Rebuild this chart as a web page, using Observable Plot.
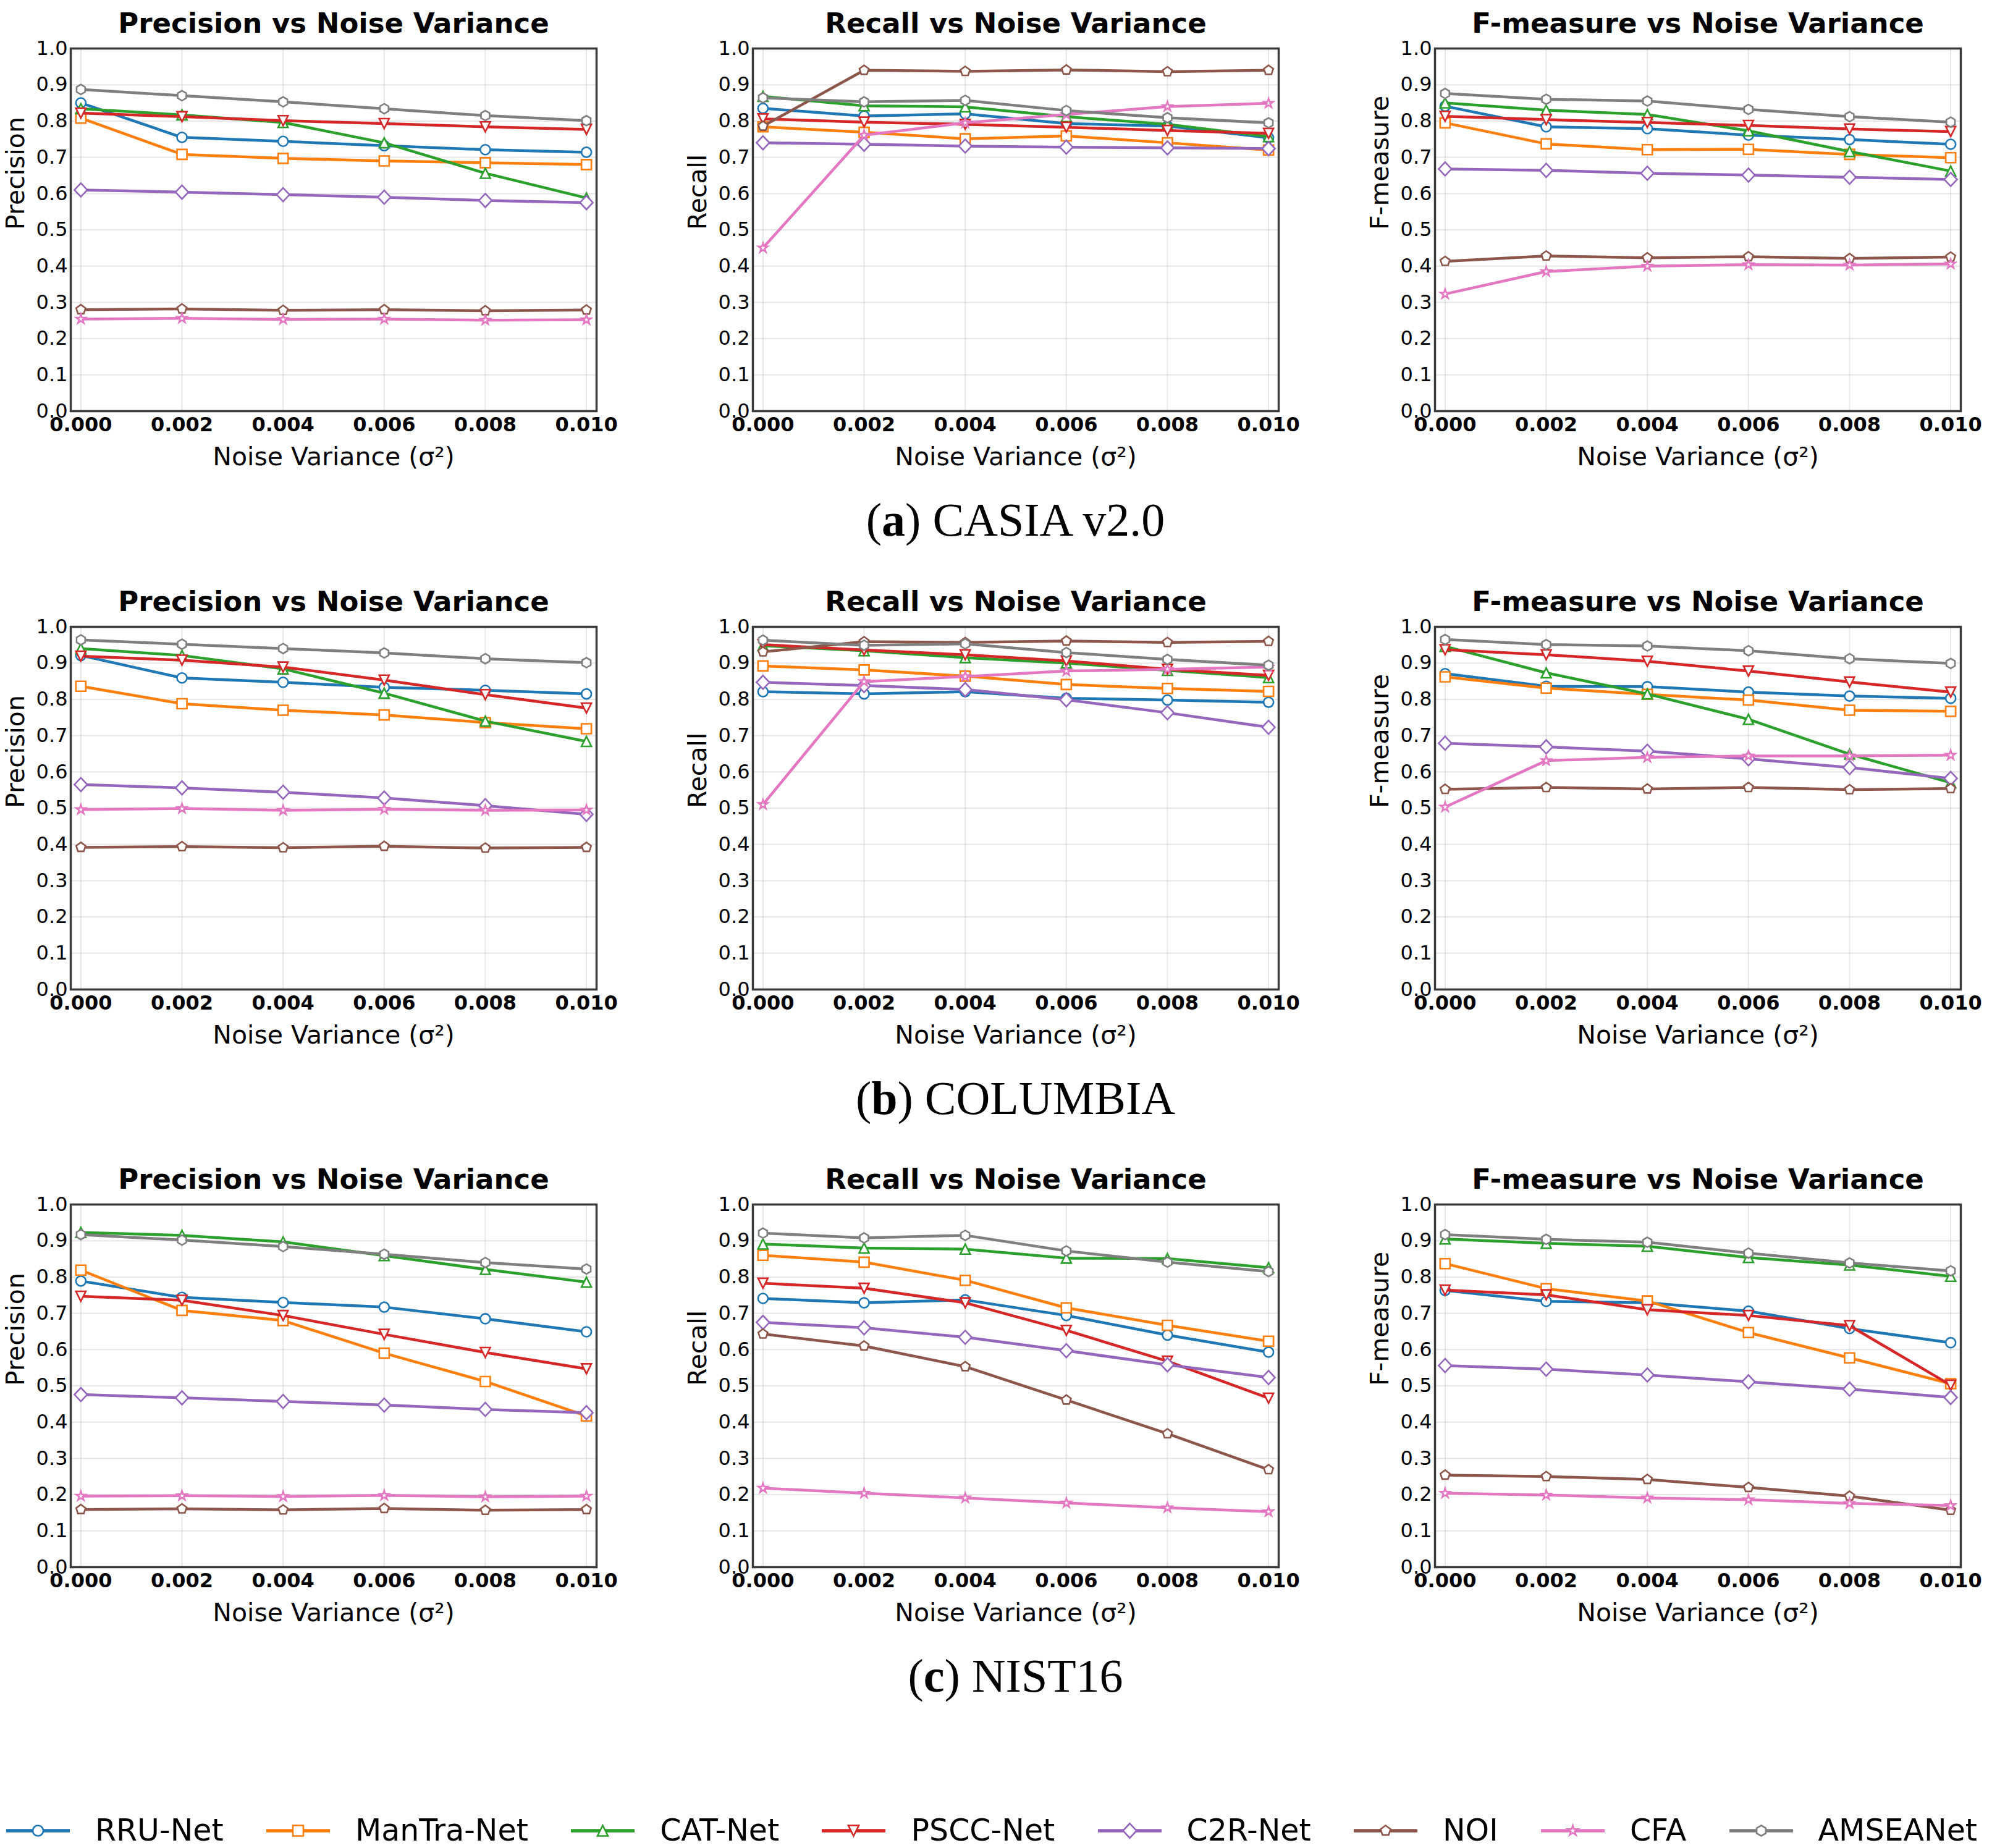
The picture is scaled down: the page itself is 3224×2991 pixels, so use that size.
<!DOCTYPE html>
<html>
<head>
<meta charset="utf-8">
<script src="https://cdn.jsdelivr.net/npm/d3@7"></script>
<script src="https://cdn.jsdelivr.net/npm/@observablehq/plot@0.6"></script>
<style>
html, body { margin: 0; padding: 0; background: #fff; }
#page { position: relative; width: 3224px; height: 2991px; overflow: hidden; font-family: "DejaVu Sans"; color: #000; }
.panel { position: absolute; }
.caption { position: absolute; font-family: "Liberation Serif"; font-size: 76px; line-height: 1; white-space: nowrap; transform: translateX(-50%); }
#legend { position: absolute; left: 10px; width: 3190px; top: 2933px; height: 60px; display: flex; justify-content: space-between; align-items: center; }
.entry { display: flex; align-items: center; height: 60px; }
.entry span { font-family: "DejaVu Sans"; font-size: 49px; line-height: 60px; margin-left: 41px; white-space: nowrap; }
</style>
</head>
<body>
<div id="page"></div>
<script>
// ---------- data ----------
const models = ["RRU-Net", "ManTra-Net", "CAT-Net", "PSCC-Net", "C2R-Net", "NOI", "CFA", "AMSEANet"];
const colors = ["#1f77b4", "#ff7f0e", "#2ca02c", "#d62728", "#9467bd", "#8c564b", "#e377c2", "#7f7f7f"];
const noiseVariance = [0, 0.002, 0.004, 0.006, 0.008, 0.010];
const yTicks = [0, 0.1, 0.2, 0.3, 0.4, 0.5, 0.6, 0.7, 0.8, 0.9, 1.0];
const metrics = ["Precision", "Recall", "F-measure"];
const datasetLetters = ["a", "b", "c"];
const datasetNames = ["CASIA v2.0", "COLUMBIA", "NIST16"];

// rows in model order: RRU, ManTra, CAT, PSCC, C2R, NOI, CFA, AMSEANet
const casiaPrecision = [
  [0.850, 0.755, 0.744, 0.732, 0.721, 0.714],
  [0.808, 0.708, 0.697, 0.690, 0.685, 0.680],
  [0.834, 0.817, 0.796, 0.740, 0.656, 0.588],
  [0.822, 0.812, 0.801, 0.793, 0.784, 0.777],
  [0.610, 0.604, 0.597, 0.590, 0.581, 0.575],
  [0.280, 0.282, 0.278, 0.280, 0.277, 0.279],
  [0.254, 0.256, 0.253, 0.254, 0.251, 0.252],
  [0.887, 0.870, 0.853, 0.834, 0.815, 0.801]
];
const casiaRecall = [
  [0.835, 0.814, 0.820, 0.793, 0.786, 0.754],
  [0.784, 0.769, 0.751, 0.759, 0.740, 0.720],
  [0.868, 0.842, 0.839, 0.812, 0.791, 0.757],
  [0.806, 0.797, 0.791, 0.783, 0.774, 0.766],
  [0.740, 0.736, 0.731, 0.728, 0.726, 0.724],
  [0.786, 0.940, 0.937, 0.941, 0.936, 0.940],
  [0.450, 0.761, 0.795, 0.818, 0.840, 0.849],
  [0.864, 0.853, 0.857, 0.829, 0.809, 0.795]
];
const casiaF = [
  [0.841, 0.784, 0.779, 0.761, 0.749, 0.736],
  [0.795, 0.737, 0.721, 0.722, 0.708, 0.699],
  [0.850, 0.830, 0.818, 0.773, 0.716, 0.662],
  [0.813, 0.804, 0.796, 0.788, 0.778, 0.771],
  [0.668, 0.664, 0.656, 0.651, 0.645, 0.639],
  [0.413, 0.428, 0.423, 0.426, 0.421, 0.425],
  [0.323, 0.385, 0.400, 0.404, 0.403, 0.406],
  [0.876, 0.860, 0.855, 0.832, 0.812, 0.797]
];
const columbiaPrecision = [
  [0.921, 0.859, 0.847, 0.833, 0.825, 0.815],
  [0.836, 0.788, 0.770, 0.757, 0.736, 0.719],
  [0.940, 0.921, 0.884, 0.817, 0.740, 0.684],
  [0.919, 0.908, 0.889, 0.853, 0.813, 0.776],
  [0.565, 0.556, 0.544, 0.528, 0.507, 0.483],
  [0.392, 0.394, 0.391, 0.395, 0.390, 0.392],
  [0.496, 0.499, 0.494, 0.497, 0.494, 0.495],
  [0.964, 0.952, 0.940, 0.928, 0.912, 0.901]
];
const columbiaRecall = [
  [0.821, 0.815, 0.821, 0.803, 0.798, 0.792],
  [0.892, 0.881, 0.864, 0.841, 0.830, 0.822],
  [0.948, 0.934, 0.915, 0.900, 0.880, 0.860],
  [0.951, 0.936, 0.923, 0.906, 0.883, 0.866],
  [0.847, 0.838, 0.827, 0.799, 0.763, 0.723],
  [0.931, 0.959, 0.957, 0.961, 0.957, 0.960],
  [0.510, 0.849, 0.863, 0.878, 0.883, 0.889],
  [0.963, 0.949, 0.953, 0.929, 0.910, 0.894]
];
const columbiaF = [
  [0.871, 0.836, 0.835, 0.820, 0.809, 0.803],
  [0.862, 0.831, 0.814, 0.798, 0.770, 0.767],
  [0.946, 0.873, 0.815, 0.745, 0.649, 0.570],
  [0.937, 0.923, 0.905, 0.878, 0.848, 0.820],
  [0.679, 0.669, 0.657, 0.636, 0.612, 0.582],
  [0.552, 0.557, 0.553, 0.557, 0.551, 0.554],
  [0.503, 0.631, 0.640, 0.644, 0.644, 0.646],
  [0.965, 0.951, 0.947, 0.934, 0.912, 0.899]
];
const nistPrecision = [
  [0.789, 0.744, 0.730, 0.717, 0.685, 0.649],
  [0.819, 0.708, 0.680, 0.590, 0.512, 0.417],
  [0.923, 0.915, 0.897, 0.859, 0.821, 0.786],
  [0.747, 0.736, 0.694, 0.642, 0.592, 0.547],
  [0.476, 0.467, 0.457, 0.447, 0.435, 0.426],
  [0.159, 0.161, 0.158, 0.162, 0.157, 0.159],
  [0.196, 0.197, 0.195, 0.198, 0.194, 0.196],
  [0.917, 0.902, 0.884, 0.863, 0.840, 0.822]
];
const nistRecall = [
  [0.741, 0.729, 0.737, 0.694, 0.640, 0.593],
  [0.860, 0.841, 0.791, 0.715, 0.667, 0.623],
  [0.891, 0.880, 0.877, 0.852, 0.851, 0.826],
  [0.783, 0.769, 0.729, 0.653, 0.568, 0.466],
  [0.675, 0.660, 0.634, 0.597, 0.558, 0.523],
  [0.643, 0.610, 0.553, 0.461, 0.368, 0.269],
  [0.218, 0.204, 0.191, 0.177, 0.164, 0.153],
  [0.921, 0.908, 0.915, 0.872, 0.841, 0.815]
];
const nistF = [
  [0.763, 0.733, 0.729, 0.706, 0.658, 0.619],
  [0.837, 0.768, 0.734, 0.647, 0.577, 0.506],
  [0.905, 0.893, 0.885, 0.854, 0.833, 0.802],
  [0.764, 0.751, 0.710, 0.694, 0.666, 0.502],
  [0.556, 0.546, 0.530, 0.511, 0.491, 0.468],
  [0.254, 0.250, 0.242, 0.220, 0.196, 0.157],
  [0.204, 0.199, 0.191, 0.186, 0.176, 0.170],
  [0.917, 0.904, 0.896, 0.866, 0.839, 0.817]
];

const panels = [
  [casiaPrecision, casiaRecall, casiaF],
  [columbiaPrecision, columbiaRecall, columbiaF],
  [nistPrecision, nistRecall, nistF]
];

// ---------- marker symbols (matplotlib-like) ----------
function polygon(vertices) {
  return {
    draw(ctx, size) {
      const r = Math.sqrt(size / Math.PI);
      vertices.forEach(([vx, vy], i) => (i ? ctx.lineTo(vx * r, vy * r) : ctx.moveTo(vx * r, vy * r)));
      ctx.closePath();
    }
  };
}
function regular(n, inner) {
  const v = [];
  const k = inner ? 2 * n : n;
  for (let i = 0; i < k; i++) {
    const a = -Math.PI / 2 + (i * 2 * Math.PI) / k;
    const rr = inner && i % 2 ? inner : 1;
    v.push([rr * Math.cos(a), rr * Math.sin(a)]);
  }
  return polygon(v);
}
const circleSym = {
  draw(ctx, size) { const r = Math.sqrt(size / Math.PI); ctx.moveTo(r, 0); ctx.arc(0, 0, r, 0, 2 * Math.PI); ctx.closePath(); }
};
const symbolFor = [
  circleSym,
  polygon([[-1, -1], [1, -1], [1, 1], [-1, 1]]),
  polygon([[0, -1], [1, 1], [-1, 1]]),
  polygon([[0, 1], [1, -1], [-1, -1]]),
  polygon([[0, -1.38], [1.3, 0], [0, 1.38], [-1.3, 0]]),
  regular(5),
  regular(5, 0.382),
  regular(6)
];

// ---------- layout ----------
const FRAME_W = 851, FRAME_H = 587;
const M = {top: 78, left: 113, right: 40, bottom: 110};
const colFrameLeft = c => 114 + c * 1104;
const rowFrameTop = r => 78 + r * 935.5;

const page = document.getElementById("page");

function makePanel(metric, series) {
  const marks = [
    Plot.gridX({ticks: noiseVariance, stroke: "#c8c8c8", strokeOpacity: 0.45, strokeWidth: 2}),
    Plot.gridY({ticks: yTicks, stroke: "#c8c8c8", strokeOpacity: 0.45, strokeWidth: 2}),
    Plot.axisX({ticks: noiseVariance, tickFormat: d3.format(".3f"), tickSize: 0, tickPadding: 10, fontSize: 32, fontWeight: "bold", label: null}),
    Plot.axisY({ticks: yTicks, tickFormat: d3.format(".1f"), tickSize: 0, tickPadding: 5, fontSize: 32, label: null})
  ];
  series.forEach((vals, k) => {
    const pts = noiseVariance.map((x, i) => ({x, y: vals[i]}));
    marks.push(Plot.line(pts, {x: "x", y: "y", stroke: colors[k], strokeWidth: 4.5, strokeLinejoin: "round"}));
    marks.push(Plot.dot(pts, {x: "x", y: "y", symbol: symbolFor[k], r: 8, fill: "white", stroke: colors[k], strokeWidth: 2.6}));
  });
  marks.push(Plot.frame({stroke: "#3a3a3a", strokeWidth: 3.5}));
  marks.push(Plot.text([`${metric} vs Noise Variance`], {frameAnchor: "top", dy: -26, lineAnchor: "bottom", text: d => d, fontSize: 45, fontWeight: "bold"}));
  marks.push(Plot.text([metric], {frameAnchor: "left", dx: -89, rotate: -90, lineAnchor: "middle", text: d => d, fontSize: 41}));
  marks.push(Plot.text(["Noise Variance (σ²)"], {frameAnchor: "bottom", dy: 87, lineAnchor: "bottom", text: d => d, fontSize: 41}));
  return Plot.plot({
    width: M.left + FRAME_W + M.right,
    height: M.top + FRAME_H + M.bottom,
    marginTop: M.top, marginLeft: M.left, marginRight: M.right, marginBottom: M.bottom,
    x: {domain: [-0.0002, 0.0102]},
    y: {domain: [0, 1]},
    style: {fontFamily: "DejaVu Sans", fontSize: "32px", color: "#000", background: "white", overflow: "visible"},
    marks
  });
}

panels.forEach((row, r) => {
  row.forEach((series, c) => {
    const div = document.createElement("div");
    div.className = "panel";
    div.style.left = (colFrameLeft(c) - M.left) + "px";
    div.style.top = (rowFrameTop(r) - M.top) + "px";
    div.appendChild(makePanel(metrics[c], series));
    page.appendChild(div);
  });
  const cap = document.createElement("div");
  cap.className = "caption";
  cap.style.left = (colFrameLeft(1) + FRAME_W / 2) + "px";
  cap.style.top = (rowFrameTop(r) + 725) + "px";
  cap.innerHTML = `(<b>${datasetLetters[r]}</b>) ${datasetNames[r]}`;
  page.appendChild(cap);
});

// ---------- legend ----------
const legend = document.createElement("div");
legend.id = "legend";
models.forEach((name, k) => {
  const entry = document.createElement("div");
  entry.className = "entry";
  const svg = d3.create("svg").attr("width", 103).attr("height", 60);
  svg.append("line").attr("x1", 0).attr("x2", 103).attr("y1", 30).attr("y2", 30)
    .attr("stroke", colors[k]).attr("stroke-width", 5.5);
  const p = d3.path();
  symbolFor[k].draw(p, 8.5 * 8.5 * Math.PI);
  svg.append("path").attr("d", p.toString()).attr("transform", "translate(51.5,30)")
    .attr("fill", "white").attr("stroke", colors[k]).attr("stroke-width", 2.6);
  entry.appendChild(svg.node());
  const span = document.createElement("span");
  span.textContent = name;
  entry.appendChild(span);
  legend.appendChild(entry);
});
page.appendChild(legend);
</script>
</body>
</html>
